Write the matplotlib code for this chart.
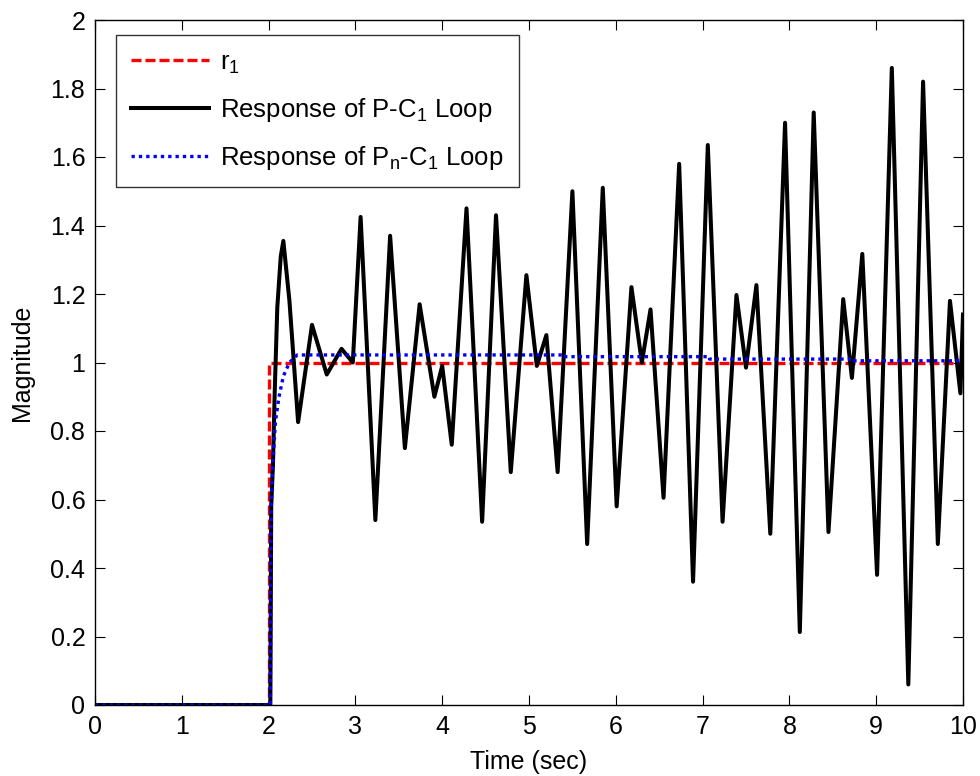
import matplotlib
matplotlib.use("Agg")
import matplotlib.pyplot as plt
from matplotlib.ticker import FixedLocator, FuncFormatter

plt.rcParams['font.family'] = ['Liberation Sans', 'DejaVu Sans']

# reference step r1
r_t = [0, 2.0, 2.0, 10]
r_y = [0, 0, 1, 1]

# response of P-C1 loop
pc_t = [0, 2.0, 2.02, 2.03, 2.05, 2.07, 2.10, 2.14, 2.17, 2.24, 2.34, 2.50, 2.67, 2.84,
        2.97, 3.06, 3.23, 3.40, 3.57, 3.74, 3.91, 4.00, 4.11, 4.28, 4.46, 4.62, 4.79,
        4.97, 5.09, 5.20, 5.33, 5.50, 5.67, 5.85, 6.01, 6.18, 6.30, 6.40, 6.55, 6.73,
        6.89, 7.06, 7.23, 7.39, 7.50, 7.62, 7.78, 7.95, 8.12, 8.28, 8.45, 8.62, 8.72,
        8.84, 9.01, 9.18, 9.37, 9.54, 9.71, 9.85, 9.97, 10.0]
pc_y = [0, 0, 0.0, 0.58, 0.70, 0.91, 1.16, 1.31, 1.355, 1.18, 0.826, 1.11, 0.965, 1.04,
        1.0, 1.425, 0.54, 1.37, 0.75, 1.17, 0.90, 0.99, 0.76, 1.45, 0.535, 1.43, 0.68,
        1.255, 0.99, 1.08, 0.68, 1.50, 0.47, 1.51, 0.58, 1.22, 1.0, 1.155, 0.605, 1.58,
        0.36, 1.635, 0.535, 1.197, 0.985, 1.226, 0.50, 1.70, 0.213, 1.73, 0.505, 1.185, 0.955,
        1.317, 0.38, 1.86, 0.06, 1.82, 0.47, 1.18, 0.91, 1.14]

# response of Pn-C1 loop
pn_t = [0, 2.0, 2.02, 2.03, 2.05, 2.08, 2.12, 2.17, 2.24, 2.33, 5.4, 5.4, 7.08, 7.08, 8.73, 8.73, 10.0]
pn_y = [0, 0, 0.0, 0.58, 0.71, 0.83, 0.90, 0.96, 1.0, 1.022, 1.022, 1.017, 1.017, 1.01, 1.01, 1.005, 1.005]

xticks = [0, 1, 2, 3, 4, 5, 6, 7, 8, 9, 10]
yticks = [0, 0.2, 0.4, 0.6, 0.8, 1.0, 1.2, 1.4, 1.6, 1.8, 2.0]

FS = 18

fig = plt.figure(figsize=(9.8, 7.76), dpi=100)
ax = fig.add_axes([95/980, 1 - 705/776, (963 - 95)/980, (705 - 20)/776])

ax.plot(r_t, r_y, color='#ff0000', lw=2.4, dashes=[3.0, 1.2], label=r'$\mathregular{r_1}$')
ax.plot(pc_t, pc_y, color='black', lw=2.9, solid_joinstyle='round',
        label=r'Response of P-C$\mathregular{_1}$ Loop')
ax.plot(pn_t, pn_y, color='#0000ff', lw=2.4, dashes=[1.0, 1.2],
        label=r'Response of P$\mathregular{_n}$-C$\mathregular{_1}$ Loop')

ax.set_xlim(0, 10)
ax.set_ylim(0, 2)
ax.xaxis.set_major_locator(FixedLocator(xticks))
ax.yaxis.set_major_locator(FixedLocator(yticks))
ax.yaxis.set_major_formatter(FuncFormatter(lambda v, p: ('%g' % round(v, 2))))
ax.tick_params(direction='in', length=7, width=0.8, top=True, right=True,
               labelsize=FS)
ax.tick_params(axis='y', pad=7)
ax.tick_params(axis='x', pad=7)
for s in ax.spines.values():
    s.set_linewidth(1.0)

ax.set_xlabel('Time (sec)', fontsize=FS, labelpad=8)
ax.set_ylabel('Magnitude', fontsize=FS, labelpad=12)

leg = ax.legend(loc='upper left', bbox_to_anchor=((116 - 95)/868, 1 - (35 - 20)/685),
                fontsize=18.5, frameon=True, fancybox=False, edgecolor='black',
                handlelength=3.0, handletextpad=0.45, borderpad=0.6, labelspacing=0.78,
                borderaxespad=0)
leg.get_frame().set_linewidth(1.0)

fig.savefig('out.png', dpi=100)
